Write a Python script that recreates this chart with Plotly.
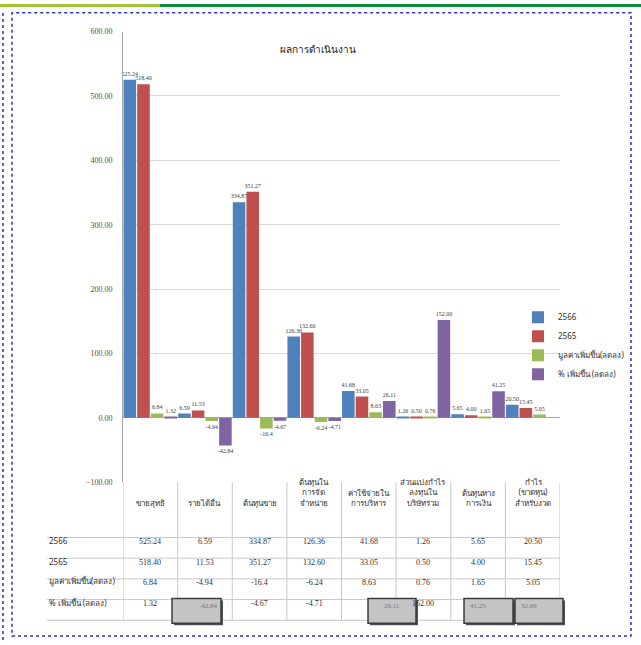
import plotly.graph_objects as go

W, H = 641, 645

# ---------------- data ----------------
categories = ["ขายสุทธิ", "รายได้อื่น", "ต้นทุนขาย", "ต้นทุนใน<br>การจัด<br>จำหน่าย",
              "ค่าใช้จ่ายใน<br>การบริหาร", "ส่วนแบ่งกำไร<br>ลงทุนใน<br>บริษัทร่วม",
              "ต้นทุนทาง<br>การเงิน", "กำไร<br>(ขาดทุน)<br>สำหรับงวด"]
series_names = ["2566", "2565", "มูลค่าเพิ่มขึ้น(ลดลง)", "% เพิ่มขึ้น (ลดลง)"]
y2566 = [525.24, 6.59, 334.87, 126.36, 41.68, 1.26, 5.65, 20.50]
y2565 = [518.40, 11.53, 351.27, 132.60, 33.05, 0.50, 4.00, 15.45]
diff = [6.84, -4.94, -16.4, -6.24, 8.63, 0.76, 1.65, 5.05]
pct = [1.32, -42.84, -4.67, -4.71, 26.11, 152.00, 41.25, 32.69]
pct_bars = [1.32, -42.84, -4.67, -4.71, 26.11, 152.00, 41.25, None]
boxed_pct = [1, 4, 6, 7]          # % cells covered by grey boxes in the picture
y_ticks = [-100, 0, 100, 200, 300, 400, 500, 600]
title = "ผลการดำเนินงาน"

colors = ["#4f81bd", "#c0504d", "#9bbb59", "#8064a2"]

def fmt2(v):
    return f"{v:.2f}"

def fmtg(v):
    return f"{v:g}"

def px(x):
    return x / W

def py(y):
    return 1 - y / H

FONT = "Liberation Serif, Noto Sans, DejaVu Serif, serif"
THAI = "Noto Sans, DejaVu Sans, sans-serif"

table_strings = [
    [fmt2(v) for v in y2566],
    [fmt2(v) for v in y2565],
    [fmtg(v) for v in diff],
    [fmt2(v) for v in pct],
]

fig = go.Figure()
series = [y2566, y2565, diff, pct_bars]
texts = [table_strings[0], table_strings[1], table_strings[2],
         [fmt2(v) if v is not None else "" for v in pct_bars]]
for i, (name, vals) in enumerate(zip(series_names, series)):
    fig.add_trace(go.Bar(
        x=categories, y=vals, name=name, marker_color=colors[i],
        marker_line_width=0,
        text=texts[i], textposition="outside", constraintext="none",
        textfont=dict(size=6, color="#404040", family=FONT),
        cliponaxis=False, legendgroup=str(i),
    ))

X0, X1 = 123, 560
Y_TOP, Y_BOT = 28, 485
fig.update_layout(
    width=W, height=H, margin=dict(l=0, r=0, t=0, b=0),
    paper_bgcolor="white", plot_bgcolor="white",
    barmode="group", bargap=0.0, bargroupgap=0.08,
    showlegend=True,
    legend=dict(x=px(518), y=py(303), xanchor="left", yanchor="top",
                font=dict(size=8, family=THAI, color="#303030"),
                bgcolor="rgba(0,0,0,0)", tracegroupgap=6, itemwidth=30,
                traceorder="normal"),
    xaxis=dict(domain=[px(X0), px(X1)], range=[-0.5, 7.5], showticklabels=False,
               showgrid=False, zeroline=False, showline=False, ticks=""),
    yaxis=dict(domain=[py(Y_BOT), py(Y_TOP)], range=[-100, 600], tickvals=y_ticks,
               tickformat=".2f", showgrid=True, gridcolor="#d9d9d9", gridwidth=1,
               zeroline=True, zerolinecolor="#a6a6a6", zerolinewidth=1,
               showline=True, linecolor="#a6a6a6", linewidth=1,
               tickfont=dict(size=8, family=FONT, color="#505050"),
               ticklabelstandoff=8),
    font=dict(family=THAI),
)

shapes = []
ann = []

# title
ann.append(dict(text=title, x=px(318), y=py(37), xref="paper", yref="paper",
                showarrow=False, font=dict(size=10, family=THAI, color="#202020")))

# ---------------- data table ----------------
row_lines = [541, 562, 583, 604, 625]
line_col = "#c8c8c8"
for yl in row_lines:
    shapes.append(dict(type="line", xref="paper", yref="paper", x0=px(47), x1=px(X1),
                       y0=py(yl), y1=py(yl), line=dict(color=line_col, width=1)))
for k in range(len(categories) + 1):
    shapes.append(dict(type="line", xref="x", yref="paper", x0=k - 0.5, x1=k - 0.5,
                       y0=py(Y_BOT), y1=py(row_lines[-1]), line=dict(color=line_col, width=1)))

# header
for k, c in enumerate(categories):
    ann.append(dict(text=c, x=k, y=py(513), xref="x", yref="paper", showarrow=False,
                    font=dict(size=8, family=THAI, color="#303030"), align="center"))

# rows
for r, name in enumerate(series_names):
    yc = (row_lines[r] + row_lines[r + 1]) / 2
    ann.append(dict(text=name, x=px(47), y=py(yc), xref="paper", yref="paper",
                    xanchor="left", showarrow=False,
                    font=dict(size=8, family=THAI, color="#303030")))
    for k in range(len(categories)):
        if r == 3 and k in boxed_pct:
            continue
        ann.append(dict(text=table_strings[r][k], x=k, y=py(yc), xref="x", yref="paper",
                        showarrow=False, font=dict(size=8, family=FONT, color="#303030")))

# grey overlay boxes on % row
boxes = [(172, 221), (368, 416), (464, 513), (515, 563)]
for (bx0, bx1), k in zip(boxes, boxed_pct):
    shapes.append(dict(type="rect", xref="paper", yref="paper", x0=px(bx0 + 2), x1=px(bx1 + 2),
                       y0=py(630), y1=py(605), fillcolor="#505050", line=dict(width=0)))
    shapes.append(dict(type="rect", xref="paper", yref="paper", x0=px(bx0), x1=px(bx1),
                       y0=py(628), y1=py(603), fillcolor="#c4c4c4",
                       line=dict(color="#3c3c3c", width=1.5)))
    ann.append(dict(text=table_strings[3][k], x=px((bx0 + bx1) / 2), y=py(617),
                    xref="paper", yref="paper", showarrow=False,
                    font=dict(size=7, family=FONT, color="#777777")))

# ---------------- page decorations ----------------
shapes.append(dict(type="rect", xref="paper", yref="paper", x0=0, x1=px(160), y0=py(3), y1=1,
                   fillcolor="#a3c23a", line=dict(width=0)))
shapes.append(dict(type="rect", xref="paper", yref="paper", x0=px(160), x1=1, y0=py(3), y1=1,
                   fillcolor="#0b8f3c", line=dict(width=0)))
shapes.append(dict(type="rect", xref="paper", yref="paper", x0=px(12), x1=px(631),
                   y0=py(641), y1=py(9), line=dict(color="#2a2ae0", width=1.5, dash="dot")))
shapes.append(dict(type="line", xref="paper", yref="paper", x0=px(3), x1=px(3),
                   y0=py(645), y1=py(9), line=dict(color="#2a2ae0", width=1.5, dash="dot")))

fig.update_layout(shapes=shapes, annotations=ann)
fig.write_html("out.html", config={"displayModeBar": False},
               post_script="document.body.style.margin='0px';document.body.style.overflow='hidden';")
